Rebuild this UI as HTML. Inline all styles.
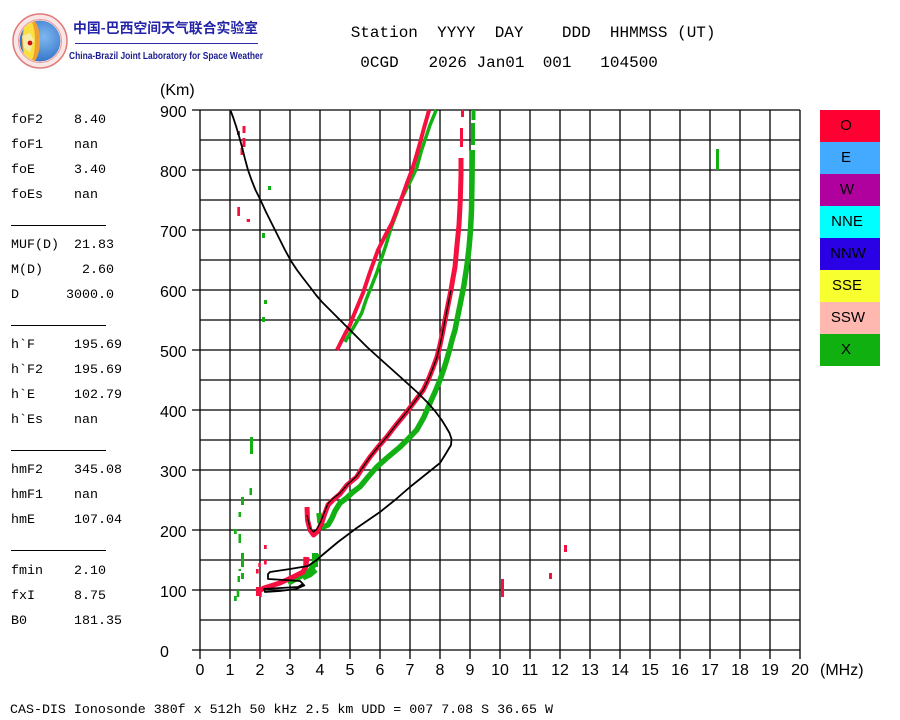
<!DOCTYPE html>
<html>
<head>
<meta charset="utf-8">
<style>
html,body{margin:0;padding:0;background:#fff;}
svg{display:block;}
.m{font-family:"Liberation Mono","DejaVu Sans Mono",monospace;fill:#000;}
.s{font-family:"Liberation Sans",Arial,sans-serif;fill:#000;}
</style>
</head>
<body>
<svg width="900" height="720" viewBox="0 0 900 720" xmlns="http://www.w3.org/2000/svg">
<rect width="900" height="720" fill="#fff"/>

<!-- Logo -->
<defs>
<clipPath id="globe"><circle cx="40" cy="41" r="20.5"/></clipPath>
<radialGradient id="gb" cx="0.6" cy="0.4" r="0.7">
<stop offset="0" stop-color="#7fb8f0"/><stop offset="1" stop-color="#2a6cc4"/>
</radialGradient>
</defs>
<circle cx="40" cy="41" r="27" fill="#fbe6e6" stroke="#e07a7a" stroke-width="1.5"/>
<circle cx="40" cy="41" r="21.5" fill="none" stroke="#e89a9a" stroke-width="1"/>
<g clip-path="url(#globe)">
<circle cx="40" cy="41" r="20.5" fill="url(#gb)"/>
<ellipse cx="31" cy="41" rx="9" ry="22" fill="#f0a030"/>
<ellipse cx="29" cy="41" rx="6" ry="22" fill="#f8e040"/>
<path d="M22 36 L30 33 L34 40 L30 52 L24 48 Z" fill="#f4f0c0" opacity="0.8"/>
</g>
<circle cx="30" cy="43" r="2.4" fill="#d01010"/>
<text x="73" y="33" font-family="'Noto Sans CJK SC','WenQuanYi Zen Hei',sans-serif" font-size="14" font-weight="bold" fill="#2424a8" textLength="185" lengthAdjust="spacingAndGlyphs">中国-巴西空间天气联合实验室</text>
<line x1="75" y1="43.5" x2="258" y2="43.5" stroke="#2a2aa8" stroke-width="1"/>
<text x="69" y="59" font-family="'Liberation Sans',sans-serif" font-size="10.5" font-weight="bold" fill="#1c1c90" textLength="194" lengthAdjust="spacingAndGlyphs">China-Brazil Joint Laboratory for Space Weather</text>

<!-- Title -->
<g class="m" font-size="16">
<text x="350.7" y="37">Station</text>
<text x="437.1" y="37">YYYY</text>
<text x="494.7" y="37">DAY</text>
<text x="561.9" y="37">DDD</text>
<text x="609.9" y="37">HHMMSS</text>
<text x="677.1" y="37">(UT)</text>
<text x="360.3" y="67">0CGD</text>
<text x="428.5" y="67">2026</text>
<text x="476.5" y="67">Jan01</text>
<text x="542.7" y="67">001</text>
<text x="600.3" y="67">104500</text>
</g>

<!-- Left parameter panel -->
<g class="m" font-size="13.33">
<text x="11" y="123">foF2</text><text x="74" y="123">8.40</text>
<text x="11" y="148">foF1</text><text x="74" y="148">nan</text>
<text x="11" y="173">foE</text><text x="74" y="173">3.40</text>
<text x="11" y="198">foEs</text><text x="74" y="198">nan</text>
<text x="11" y="248">MUF(D)</text><text x="74" y="248">21.83</text>
<text x="11" y="273">M(D)</text><text x="82" y="273">2.60</text>
<text x="11" y="298">D</text><text x="66" y="298">3000.0</text>
<text x="11" y="348">h`F</text><text x="74" y="348">195.69</text>
<text x="11" y="373">h`F2</text><text x="74" y="373">195.69</text>
<text x="11" y="398">h`E</text><text x="74" y="398">102.79</text>
<text x="11" y="423">h`Es</text><text x="74" y="423">nan</text>
<text x="11" y="473">hmF2</text><text x="74" y="473">345.08</text>
<text x="11" y="498">hmF1</text><text x="74" y="498">nan</text>
<text x="11" y="523">hmE</text><text x="74" y="523">107.04</text>
<text x="11" y="574">fmin</text><text x="74" y="574">2.10</text>
<text x="11" y="599">fxI</text><text x="74" y="599">8.75</text>
<text x="11" y="624">B0</text><text x="74" y="624">181.35</text>
</g>
<g stroke="#000" stroke-width="1">
<line x1="11" y1="225.5" x2="106" y2="225.5"/>
<line x1="11" y1="325.5" x2="106" y2="325.5"/>
<line x1="11" y1="450.5" x2="106" y2="450.5"/>
<line x1="11" y1="550.5" x2="106" y2="550.5"/>
</g>

<!-- Bottom caption -->
<text class="m" x="10" y="713" font-size="13.33" textLength="543" lengthAdjust="spacingAndGlyphs">CAS-DIS Ionosonde 380f x 512h 50 kHz 2.5 km UDD = 007 7.08 S 36.65 W</text>

<!-- Grid -->
<g stroke="#000" stroke-width="1.3">
<line x1="192" y1="110" x2="800" y2="110"/>
<line x1="200" y1="140" x2="800" y2="140"/>
<line x1="192" y1="170" x2="800" y2="170"/>
<line x1="200" y1="200" x2="800" y2="200"/>
<line x1="192" y1="230" x2="800" y2="230"/>
<line x1="200" y1="260" x2="800" y2="260"/>
<line x1="192" y1="290" x2="800" y2="290"/>
<line x1="200" y1="320" x2="800" y2="320"/>
<line x1="192" y1="350" x2="800" y2="350"/>
<line x1="200" y1="380" x2="800" y2="380"/>
<line x1="192" y1="410" x2="800" y2="410"/>
<line x1="200" y1="440" x2="800" y2="440"/>
<line x1="192" y1="470" x2="800" y2="470"/>
<line x1="200" y1="500" x2="800" y2="500"/>
<line x1="192" y1="530" x2="800" y2="530"/>
<line x1="200" y1="560" x2="800" y2="560"/>
<line x1="192" y1="590" x2="800" y2="590"/>
<line x1="200" y1="620" x2="800" y2="620"/>
<line x1="192" y1="650" x2="800" y2="650"/>
<line x1="200" y1="110" x2="200" y2="659"/>
<line x1="230" y1="110" x2="230" y2="659"/>
<line x1="260" y1="110" x2="260" y2="659"/>
<line x1="290" y1="110" x2="290" y2="659"/>
<line x1="320" y1="110" x2="320" y2="659"/>
<line x1="350" y1="110" x2="350" y2="659"/>
<line x1="380" y1="110" x2="380" y2="659"/>
<line x1="410" y1="110" x2="410" y2="659"/>
<line x1="440" y1="110" x2="440" y2="659"/>
<line x1="470" y1="110" x2="470" y2="659"/>
<line x1="500" y1="110" x2="500" y2="659"/>
<line x1="530" y1="110" x2="530" y2="659"/>
<line x1="560" y1="110" x2="560" y2="659"/>
<line x1="590" y1="110" x2="590" y2="659"/>
<line x1="620" y1="110" x2="620" y2="659"/>
<line x1="650" y1="110" x2="650" y2="659"/>
<line x1="680" y1="110" x2="680" y2="659"/>
<line x1="710" y1="110" x2="710" y2="659"/>
<line x1="740" y1="110" x2="740" y2="659"/>
<line x1="770" y1="110" x2="770" y2="659"/>
<line x1="800" y1="110" x2="800" y2="659"/>
</g>

<!-- Axis labels -->
<g class="s" font-size="16">
<text x="160" y="95">(Km)</text>
<text x="160" y="117">900</text>
<text x="160" y="177">800</text>
<text x="160" y="237">700</text>
<text x="160" y="297">600</text>
<text x="160" y="357">500</text>
<text x="160" y="417">400</text>
<text x="160" y="477">300</text>
<text x="160" y="537">200</text>
<text x="160" y="597">100</text>
<text x="160" y="657">0</text>
</g>
<g class="s" font-size="16" text-anchor="middle">
<text x="200" y="675">0</text><text x="230" y="675">1</text><text x="260" y="675">2</text>
<text x="290" y="675">3</text><text x="320" y="675">4</text><text x="350" y="675">5</text>
<text x="380" y="675">6</text><text x="410" y="675">7</text><text x="440" y="675">8</text>
<text x="470" y="675">9</text><text x="500" y="675">10</text><text x="530" y="675">11</text>
<text x="560" y="675">12</text><text x="590" y="675">13</text><text x="620" y="675">14</text>
<text x="650" y="675">15</text><text x="680" y="675">16</text><text x="710" y="675">17</text>
<text x="740" y="675">18</text><text x="770" y="675">19</text><text x="800" y="675">20</text>
</g>
<text class="s" x="820" y="675" font-size="16">(MHz)</text>

<!-- Legend -->
<rect x="820" y="110" width="60" height="32" fill="#ff0033"/>
<rect x="820" y="142" width="60" height="32" fill="#44aaff"/>
<rect x="820" y="174" width="60" height="32" fill="#b0009e"/>
<rect x="820" y="206" width="60" height="32" fill="#00ffff"/>
<rect x="820" y="238" width="60" height="32" fill="#2a00e4"/>
<rect x="820" y="270" width="60" height="32" fill="#f8ff30"/>
<rect x="820" y="302" width="60" height="32" fill="#ffb8b0"/>
<rect x="820" y="334" width="60" height="32" fill="#10b010"/>
<g class="s" font-size="15" text-anchor="middle">
<text x="846" y="130">O</text>
<text x="846" y="162">E</text>
<text x="847" y="194">W</text>
<text x="847" y="226">NNE</text>
<text x="848" y="258">NNW</text>
<text x="847" y="290">SSE</text>
<text x="848" y="322">SSW</text>
<text x="846" y="354">X</text>
</g>

<!-- Data: green (X-mode) -->
<g fill="none" stroke="#12b012" stroke-linejoin="round">
<polyline stroke-width="5.5" points="319,513 320,522 323,527 328,525 332,518 335,511 340,503 346.7,498 353,492 360,486.7 368,477 376.7,467 388,457 400,447 408,439 416.7,430 424,417 430,403 435,392 440,380 443.5,370 446.7,360 450,348 452,340 455,330 457,320 461,300 464,285 467,265 469,248 470.5,230 471.5,210 472,180 472.3,150"/>
<polyline stroke-width="3.5" points="345,342 349,335 355,325 361.7,313 366,300 370,290 376.7,273 381,260 386,245 391,228 396.7,213 401,200 406,190 411,180 416.7,168 421,152 425,140 430,125 435,113 436,110"/>
<polyline stroke-width="6" points="288,583 297,578 305,574 311,570 315,562 318,554"/>
<polyline stroke-width="5" points="303,578 310,575 316,570"/>
</g>
<g fill="#12b012">
<rect x="471" y="123" width="4" height="22"/>
<rect x="471.5" y="110" width="4" height="10"/>
<rect x="268" y="186" width="3" height="4"/>
<rect x="262" y="233" width="3" height="5"/>
<rect x="264" y="300" width="3" height="4"/>
<rect x="262" y="317" width="3" height="5"/>
<rect x="250" y="437" width="3" height="17"/>
<rect x="249.5" y="488" width="2.5" height="7"/>
<rect x="241" y="497" width="3" height="8"/>
<rect x="238.5" y="512" width="2.5" height="5"/>
<rect x="234" y="529" width="2.7" height="5"/>
<rect x="238.5" y="534" width="2.5" height="9"/>
<rect x="241" y="553" width="3" height="14"/>
<rect x="238.5" y="569" width="2.5" height="2"/>
<rect x="241" y="573" width="3" height="6"/>
<rect x="237.5" y="576" width="2.5" height="6"/>
<rect x="236.7" y="590" width="2.6" height="7"/>
<rect x="234" y="596" width="2.7" height="5"/>
<rect x="716" y="149" width="3" height="21"/>
<rect x="312" y="553" width="6" height="14"/>
</g>

<!-- Data: red (O-mode) -->
<g fill="none" stroke="#f5103f" stroke-linejoin="round">
<polyline stroke-width="5" points="307,507 307.5,520 310,530 313.5,535 317,532 321.7,523 325,513 328,505 333,500 340,494 347,485 356.7,477 363,467 370,457 378,447 386.7,437 396,425 406.7,412 415,401 423.3,390 429,378 433.3,367 437,357 440,345 442.5,333 446,315 449,300 451,290 453,278 455,267 457,245 459,225 460.3,200 461,175 461,158"/>
<polyline stroke-width="4" points="337,350 340,344 345,334 350,325 353,317 358,305 363,293 370,272 378,250 385,236 392,223 397,210 402,197 407,183 412,170 416,157 420,143 424,128 428,114 429,110"/>
<polyline stroke-width="5" points="259,591 264,588 280,583 293,577 303,572 306,566 307,557"/>
</g>
<g fill="#f5103f">
<rect x="460" y="128" width="3" height="19"/>
<rect x="461" y="110" width="3" height="7"/>
<rect x="242.5" y="126" width="3" height="7"/>
<rect x="242.5" y="138" width="3" height="9"/>
<rect x="237" y="131" width="3" height="4"/>
<rect x="240.5" y="148" width="3" height="7"/>
<rect x="237.3" y="207" width="2.7" height="9"/>
<rect x="246.7" y="219" width="3.3" height="3"/>
<rect x="264" y="545" width="2.7" height="4"/>
<rect x="264" y="560" width="2.7" height="4.5"/>
<rect x="258.3" y="563" width="2.5" height="4"/>
<rect x="256" y="569" width="2.7" height="4.5"/>
<rect x="256" y="587" width="5.5" height="9"/>
<rect x="259.3" y="592" width="2.4" height="5"/>
<rect x="303.3" y="557" width="4" height="10"/>
<rect x="501" y="579" width="3" height="18"/>
<rect x="549" y="573" width="3" height="6"/>
<rect x="564" y="545" width="3" height="7"/>
</g>

<!-- Black fitted h'(f) line inside red trace -->
<polyline fill="none" stroke="#000" stroke-width="1.2" stroke-linejoin="round" points="307,515 310,528 313.5,532 317,529 321,521 325,511 328,503.5 333,498.5 340,493 347,485 356.7,476 363,467 370,457 378,447 386.7,437 396,425 406.7,412 415,401 423.3,390 429,378 433.3,367 437,357 440,345 442.5,333 446,315 449,300 451,290"/>

<!-- Black profile -->
<polyline fill="none" stroke="#000" stroke-width="1.8" stroke-linejoin="round" points="230.7,111 233,117 236,126 239,136 242,147 245,159 248,170 251.5,180 255.5,190 260,199 266,212 272.5,225 279,238 285,250 291,261 297,270 303,278 310,287 316,295 322,302 330,310 339,319 348,328 357,337 367,347 378,357 392,369.5 407,383 418,393 427,402 435,411 441.7,420 446,427 449.5,433 451.5,439 451,445 448,450 445,455 440,463 425,475 410,487 395,500 380,512 356.7,528 338,542 320,557 316.7,560 308,566 290,569 270,572 268,574 268,579 285,580 300,581 303,584 298,587 280,588 264,589 265,592 280,591 296,589 305,585"/>
</svg>
</body>
</html>
